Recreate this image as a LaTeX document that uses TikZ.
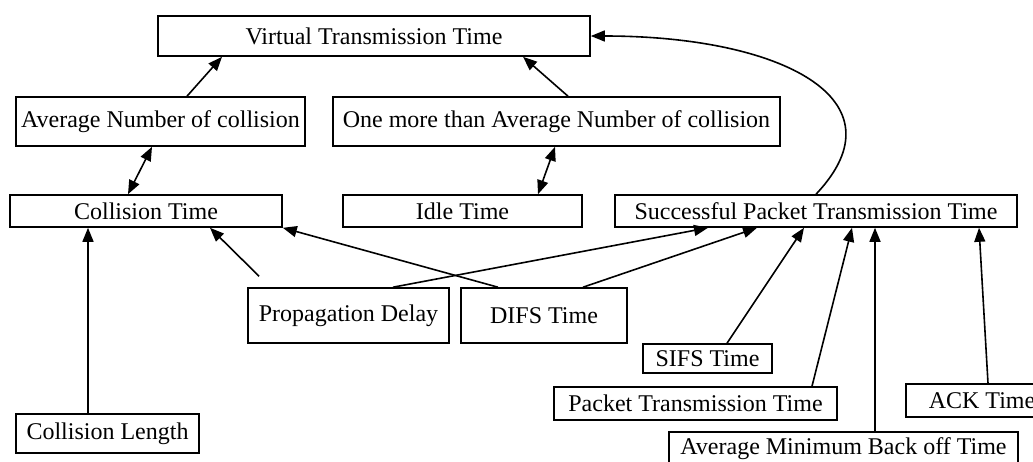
\documentclass[tikz,border=0pt]{standalone}
\usepackage{fontspec}
\setmainfont{Liberation Serif}
\usetikzlibrary{arrows.meta}

\tikzset{
    box/.style={draw, line width=0.8pt, inner sep=0pt, font=\fontsize{12}{13}\selectfont},
    arr/.style={line width=0.8pt, -{Triangle[length=7pt,width=5.5pt]}},
    dblarr/.style={line width=0.8pt, {Triangle[length=7pt,width=5.5pt]}-{Triangle[length=7pt,width=5.5pt]}}
}

\begin{document}
\begin{tikzpicture}[x=0.5pt, y=-0.5pt]
            \useasboundingbox (0,0) rectangle (1033,461);
            \node[box, minimum width=216pt, minimum height=20pt] (vtt) at (374,36) {Virtual Transmission Time};
            \node[box, minimum width=144.5pt, minimum height=24.5pt] (anc) at (160.5,121.5) {Average Number of collision};
            \node[box, minimum width=223.5pt, minimum height=24.5pt] (omanc) at (556.5,121.5) {One more than Average Number of collision};
            \node[box, minimum width=136pt, minimum height=16pt] (ct) at (146,211) {Collision Time\hspace{19pt}};
            \node[box, minimum width=119.5pt, minimum height=16pt] (idle) at (462.5,211) {Idle Time};
            \node[box, minimum width=201pt, minimum height=16pt] (sptt) at (816,211) {Successful Packet Transmission Time};
            \node[box, minimum width=100.5pt, minimum height=27.5pt] (prop) at (348.5,315.5) {Propagation Delay};
            \node[box, minimum width=83pt, minimum height=27.5pt] (difs) at (544,315.5) {DIFS Time};
            \node[box, minimum width=64.5pt, minimum height=14.5pt] (sifs) at (707.5,358.5) {SIFS Time};
            \node[box, minimum width=141.5pt, minimum height=16.5pt] (ptt) at (695.5,403.5) {Packet Transmission Time};
            \node[box, minimum width=174.5pt, minimum height=16.5pt] (ambt) at (843.5,448.5) {Average Minimum Back off Time};
            \node[box, minimum width=76pt, minimum height=16.5pt] (ack) at (982,400.5) {ACK Time};
            \node[box, minimum width=91.5pt, minimum height=19.5pt] (cl) at (107.5,433.5) {Collision Length};

            \draw[arr] ([xshift=13.25pt]anc.north) -- ([xshift=-76pt]vtt.south);
            \draw[arr] ([xshift=5.75pt]omanc.north) -- ([xshift=74.5pt]vtt.south);
            \draw[dblarr] ([xshift=-4.25pt]anc.south) -- ([xshift=-9pt]ct.north);
            \draw[dblarr] ([xshift=-0.75pt]omanc.south) -- ([xshift=37.75pt]idle.north);
            \draw[arr] (sptt.north) .. controls +(90,-95) and +(190,0) .. (vtt.east);

            \draw[arr] ([xshift=-9.75pt]cl.north) -- ([xshift=-29pt]ct.south);
            \draw[arr, shorten <=7.8pt] ([xshift=11.5pt]prop.north west) -- ([xshift=32pt]ct.south);
            \draw[arr] ([xshift=-23pt]difs.north) -- (ct.south east);
            \draw[arr] ([xshift=22.25pt]prop.north) -- ([xshift=-54pt]sptt.south);
            \draw[arr] ([xshift=19.5pt]difs.north) -- ([xshift=-29.5pt]sptt.south);
            \draw[arr] ([xshift=9.75pt]sifs.north) -- ([xshift=-6pt]sptt.south);
            \draw[arr] ([xshift=58.25pt]ptt.north) -- ([xshift=18pt]sptt.south);
            \draw[arr] ([xshift=15.75pt]ambt.north) -- ([xshift=29.5pt]sptt.south);
            \draw[arr] ([xshift=3pt]ack.north) -- ([xshift=81.5pt]sptt.south);
        \end{tikzpicture}
\end{document}
